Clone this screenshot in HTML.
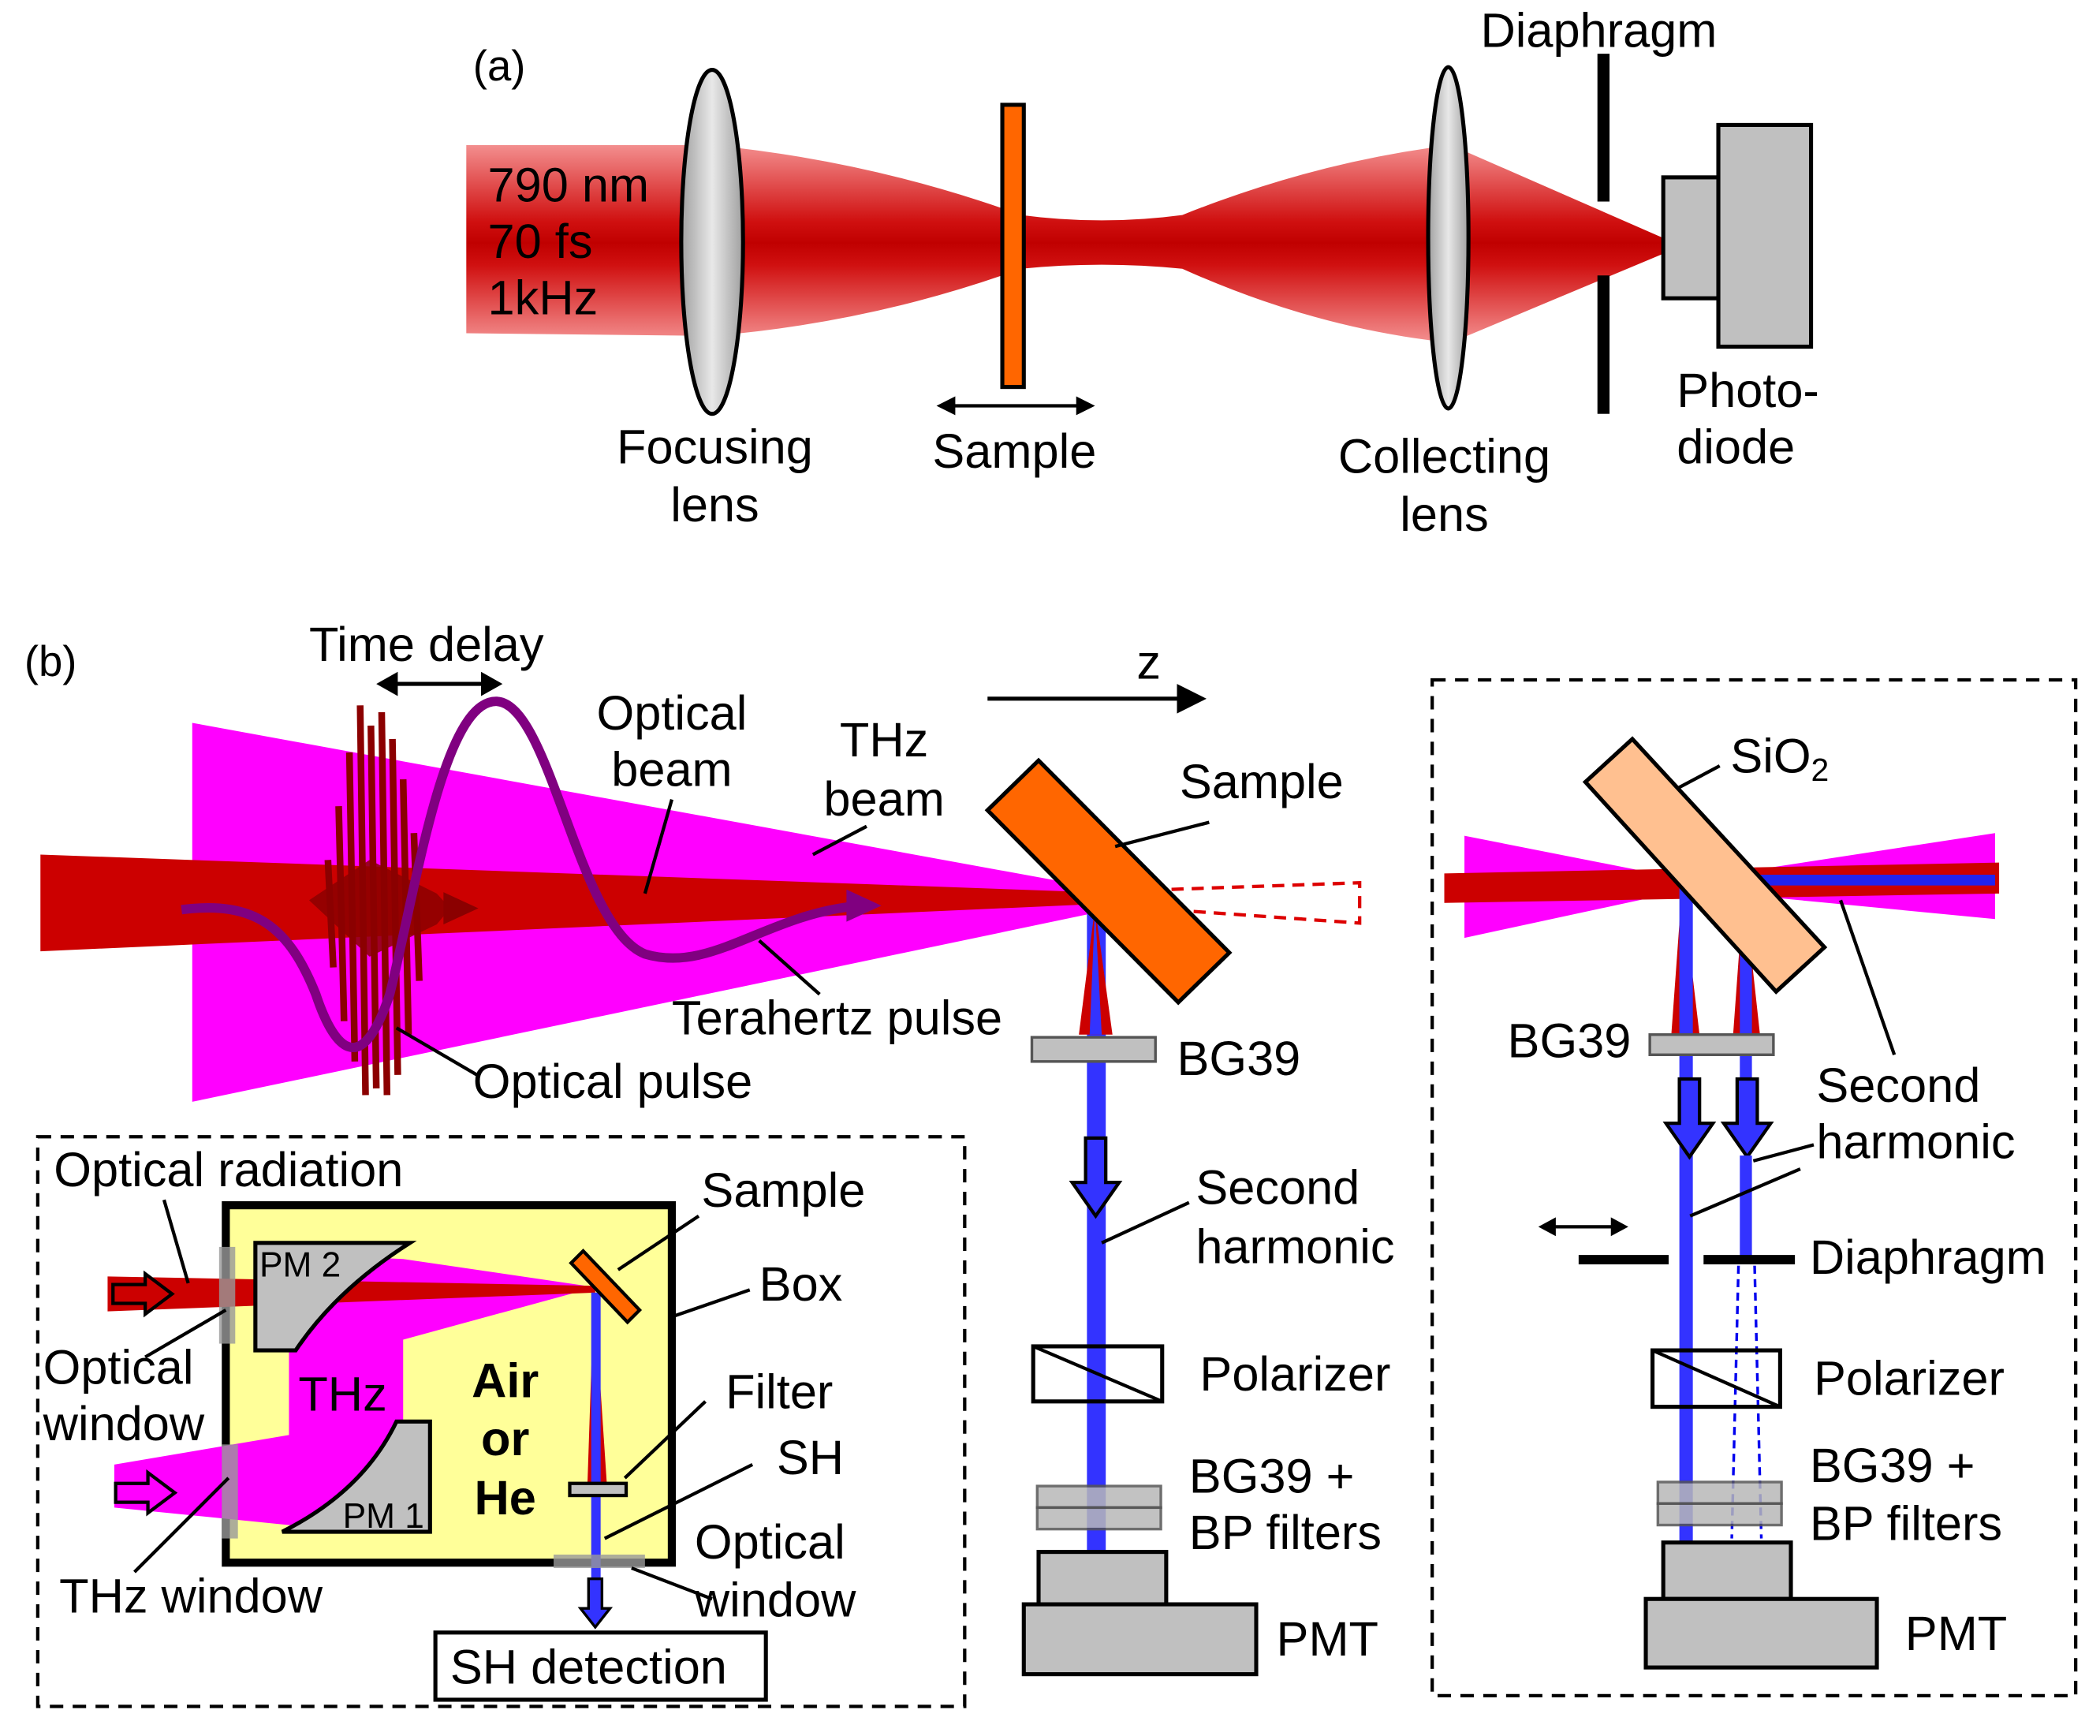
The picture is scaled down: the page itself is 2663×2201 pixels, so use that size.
<!DOCTYPE html>
<html><head><meta charset="utf-8"><style>html,body{margin:0;padding:0;background:#fff}svg{display:block}text{font-family:"Liberation Sans",sans-serif;fill:#000}</style></head><body>
<svg width="2663" height="2201" viewBox="0 0 1563 1292" xmlns="http://www.w3.org/2000/svg">
<defs>
<linearGradient id="rg" x1="0" y1="100" x2="0" y2="262" gradientUnits="userSpaceOnUse">
<stop offset="0" stop-color="#f8a0a0"/><stop offset="0.4" stop-color="#d01010"/><stop offset="0.5" stop-color="#c00000"/><stop offset="0.6" stop-color="#d01010"/><stop offset="1" stop-color="#f8a0a0"/></linearGradient>
<linearGradient id="lg" x1="0" x2="1" y1="0" y2="0"><stop offset="0" stop-color="#a0a0a0"/><stop offset="0.5" stop-color="#e8e8e8"/><stop offset="1" stop-color="#a0a0a0"/></linearGradient>
</defs>
<g font-size="36">
<!-- (a) -->
<text x="352" y="60" font-size="32">(a)</text>
<path d="M347,108 L530,108 Q650,120 760,160 Q820,168 880,160 Q980,120 1080,108 L1240,178 L1240,188 L1080,255 Q980,245 880,200 Q820,194 760,200 Q650,240 530,250 L347,248 Z" fill="url(#rg)"/>
<text x="363" y="150">790 nm</text><text x="363" y="192">70 fs</text><text x="363" y="234">1kHz</text>
<ellipse cx="530" cy="180" rx="23" ry="128" fill="url(#lg)" stroke="#000" stroke-width="3"/>
<rect x="746" y="78" width="16" height="210" fill="#ff6600" stroke="#000" stroke-width="3"/>
<line x1="700" y1="302" x2="812" y2="302" stroke="#000" stroke-width="2.5"/>
<path d="M697,302 l14,-7 v14 z M815,302 l-14,-7 v14 z" fill="#000"/>
<text x="755" y="348" text-anchor="middle">Sample</text>
<text x="532" y="345" text-anchor="middle">Focusing</text><text x="532" y="388" text-anchor="middle">lens</text>
<ellipse cx="1078" cy="177" rx="15" ry="127" fill="url(#lg)" stroke="#000" stroke-width="3"/>
<rect x="1189" y="40" width="9" height="110" fill="#000"/><rect x="1189" y="205" width="9" height="103" fill="#000"/>
<text x="1190" y="35" text-anchor="middle">Diaphragm</text>
<rect x="1238" y="132" width="42" height="90" fill="#c0c0c0" stroke="#000" stroke-width="3"/>
<rect x="1279" y="93" width="69" height="165" fill="#c0c0c0" stroke="#000" stroke-width="3"/>
<text x="1248" y="303">Photo-</text><text x="1248" y="345">diode</text>
<text x="1075" y="352" text-anchor="middle">Collecting</text><text x="1075" y="395" text-anchor="middle">lens</text>

<!-- (b) -->
<text x="18" y="503" font-size="32">(b)</text>
<polygon points="143,538 812,660 812,680 143,820" fill="#ff00ff"/>
<polygon points="30,636 812,664 812,673 30,708" fill="#cc0000"/>
<polygon points="812,664 1012,657 1012,687 812,673" fill="none" stroke="#dd0000" stroke-width="2.5" stroke-dasharray="9,6"/>
<path d="M268,525 L272,815 M276,540 L280,810 M284,530 L288,815 M292,550 L296,800 M260,560 L264,790 M252,600 L256,760 M300,580 L304,770 M244,640 L248,720 M308,620 L312,730" stroke="#8b0000" stroke-width="5"/>
<polygon points="230,670 275,640 325,665 335,676 325,688 275,712" fill="#8b0000" opacity="0.85"/>
<polygon points="330,664 356,676 330,688" fill="#8b0000"/>
<path d="M135,677 C190,670 215,690 235,740 C250,785 270,800 290,740 C310,660 330,520 370,522 C410,525 430,690 480,710 C530,725 570,680 640,674" fill="none" stroke="#800080" stroke-width="7"/>
<polygon points="630,662 656,674 630,686" fill="#800080"/>
<text x="230" y="492">Time delay</text>
<line x1="290" y1="509" x2="364" y2="509" stroke="#000" stroke-width="3"/>
<path d="M280,509 l16,-9 v18 z M374,509 l-16,-9 v18 z" fill="#000"/>
<text x="500" y="543" text-anchor="middle">Optical</text><text x="500" y="585" text-anchor="middle">beam</text>
<line x1="480" y1="665" x2="500" y2="595" stroke="#000" stroke-width="2.5"/>
<text x="658" y="563" text-anchor="middle">THz</text><text x="658" y="607" text-anchor="middle">beam</text>
<line x1="605" y1="636" x2="645" y2="615" stroke="#000" stroke-width="2.5"/>
<text x="500" y="770">Terahertz pulse</text>
<line x1="565" y1="700" x2="610" y2="740" stroke="#000" stroke-width="2.5"/>
<text x="352" y="817">Optical pulse</text>
<line x1="295" y1="765" x2="355" y2="800" stroke="#000" stroke-width="2.5"/>
<line x1="735" y1="520" x2="880" y2="520" stroke="#000" stroke-width="3"/>
<path d="M898,520 l-22,-11 v22 z" fill="#000"/>
<text x="846" y="505">z</text>

<!-- middle column -->
<rect x="809" y="675" width="14" height="480" fill="#3333ff"/>
<polygon points="815,675 803,770 828,770" fill="#cc0000"/>
<polygon points="815,675 811,770 820,770" fill="#3333ff"/>
<polygon points="735,603 773,566 915,709 877,746" fill="#ff6600" stroke="#000" stroke-width="3"/>
<text x="878" y="594">Sample</text>
<line x1="830" y1="630" x2="900" y2="612" stroke="#000" stroke-width="2.5"/>
<rect x="768" y="772" width="92" height="18" fill="#c0c0c0" stroke="#555" stroke-width="2"/>
<text x="876" y="800">BG39</text>
<path d="M808,847 h15 v33 h10 l-17.5,25 l-17.5,-25 h10 z" fill="#3333ff" stroke="#000" stroke-width="2.5"/>
<text x="890" y="896">Second</text><text x="890" y="940">harmonic</text>
<line x1="820" y1="925" x2="885" y2="895" stroke="#000" stroke-width="2.5"/>
<rect x="769" y="1002" width="96" height="41" fill="none" stroke="#000" stroke-width="3"/>
<line x1="769" y1="1002" x2="865" y2="1043" stroke="#000" stroke-width="2.5"/>
<text x="893" y="1035">Polarizer</text>
<rect x="772" y="1106" width="92" height="16" fill="#b8b8b8" stroke="#555" stroke-width="2" opacity="0.85"/>
<rect x="772" y="1122" width="92" height="16" fill="#b8b8b8" stroke="#555" stroke-width="2" opacity="0.85"/>
<text x="885" y="1111">BG39 +</text><text x="885" y="1153">BP filters</text>
<rect x="773" y="1155" width="95" height="40" fill="#c0c0c0" stroke="#000" stroke-width="3"/>
<rect x="762" y="1194" width="173" height="52" fill="#c0c0c0" stroke="#000" stroke-width="3"/>
<text x="950" y="1232">PMT</text>

<!-- left inset -->
<rect x="28" y="846" width="690" height="424" fill="none" stroke="#000" stroke-width="2.5" stroke-dasharray="10,7"/>
<text x="40" y="883">Optical radiation</text>
<rect x="168" y="897" width="332" height="266" fill="#ffff99" stroke="#000" stroke-width="6"/>
<polygon points="85,1090 215,1068 215,1005 250,935 300,937 443,958 300,997 300,1085 245,1138 85,1122" fill="#ff00ff"/>
<polygon points="80,950 443,957 443,962 80,976" fill="#cc0000"/>
<path d="M190,925 L305,925 Q250,960 220,1005 L190,1005 Z" fill="#c0c0c0" stroke="#000" stroke-width="3"/>
<path d="M210,1140 Q270,1110 295,1058 L320,1058 L320,1140 Z" fill="#c0c0c0" stroke="#000" stroke-width="3"/>
<text x="193" y="950" font-size="26">PM 2</text>
<text x="255" y="1137" font-size="26">PM 1</text>
<path d="M84,956 h24 v-8 l20,15 l-20,15 v-8 h-24 z" fill="#cc0000" stroke="#000" stroke-width="2.5"/>
<path d="M86,1104 h24 v-8 l20,15 l-20,15 v-8 h-24 z" fill="#ff00ff" stroke="#000" stroke-width="2.5"/>
<rect x="163" y="928" width="12" height="72" fill="#999" opacity="0.8"/>
<rect x="165" y="1075" width="12" height="70" fill="#999" opacity="0.8"/>
<polygon points="442,960 437,1110 452,1110" fill="#cc0000"/>
<rect x="440" y="962" width="7" height="240" fill="#3333ff"/>
<polygon points="425,940 434,931 476,975 467,984" fill="#ff6600" stroke="#000" stroke-width="2.5"/>
<rect x="424" y="1104" width="42" height="9" fill="#c0c0c0" stroke="#000" stroke-width="2.5"/>
<rect x="412" y="1157" width="68" height="10" fill="#999" opacity="0.8"/>
<path d="M438,1175 h10 v22 h6 l-11,14 l-11,-14 h6 z" fill="#3333ff" stroke="#000" stroke-width="2"/>
<rect x="324" y="1215" width="246" height="50" fill="#fff" stroke="#000" stroke-width="3"/>
<text x="335" y="1253">SH detection</text>
<text x="222" y="1050" font-size="36">THz</text>
<text x="376" y="1040" text-anchor="middle" font-weight="bold">Air</text>
<text x="376" y="1083" text-anchor="middle" font-weight="bold">or</text>
<text x="376" y="1127" text-anchor="middle" font-weight="bold">He</text>
<text x="522" y="898">Sample</text><line x1="460" y1="945" x2="520" y2="905" stroke="#000" stroke-width="2.5"/>
<text x="565" y="968">Box</text><line x1="500" y1="980" x2="558" y2="960" stroke="#000" stroke-width="2.5"/>
<text x="540" y="1048">Filter</text><line x1="465" y1="1100" x2="525" y2="1043" stroke="#000" stroke-width="2.5"/>
<text x="578" y="1097">SH</text><line x1="450" y1="1145" x2="560" y2="1090" stroke="#000" stroke-width="2.5"/>
<text x="517" y="1160">Optical</text><text x="517" y="1203">window</text><line x1="470" y1="1167" x2="530" y2="1190" stroke="#000" stroke-width="2.5"/>
<text x="32" y="1030">Optical</text><text x="32" y="1072">window</text>
<line x1="122" y1="893" x2="140" y2="955" stroke="#000" stroke-width="2.5"/>
<line x1="168" y1="975" x2="108" y2="1010" stroke="#000" stroke-width="2.5"/>
<text x="44" y="1200">THz window</text><line x1="170" y1="1100" x2="100" y2="1170" stroke="#000" stroke-width="2.5"/>

<!-- right inset -->
<rect x="1066" y="506" width="479" height="756" fill="none" stroke="#000" stroke-width="2.5" stroke-dasharray="10,7"/>
<polygon points="1090,622 1257,655 1485,620 1485,684 1257,662 1090,698" fill="#ff00ff"/>
<polygon points="1075,650 1488,642 1488,665 1075,672" fill="#cc0000"/>
<rect x="1255" y="651" width="230" height="8" fill="#2222ee"/>
<polygon points="1252,660 1244,770 1265,770" fill="#cc0000"/>
<polygon points="1298,660 1290,770 1310,770" fill="#cc0000"/>
<rect x="1250" y="658" width="10" height="490" fill="#3333ff"/>
<rect x="1295" y="658" width="9" height="150" fill="#3333ff"/>
<polygon points="1180,582 1215,550 1358,705 1322,738" fill="#ffc090" stroke="#000" stroke-width="3"/>
<text x="1288" y="575">SiO<tspan font-size="24" dy="6">2</tspan></text>
<line x1="1248" y1="587" x2="1280" y2="570" stroke="#000" stroke-width="2.5"/>
<rect x="1228" y="770" width="92" height="15" fill="#c0c0c0" stroke="#555" stroke-width="2"/>
<text x="1122" y="787">BG39</text>
<path d="M1250,803 h15 v33 h10 l-17.5,25 l-17.5,-25 h10 z" fill="#3333ff" stroke="#000" stroke-width="2.5"/>
<path d="M1293,803 h15 v33 h10 l-17.5,25 l-17.5,-25 h10 z" fill="#3333ff" stroke="#000" stroke-width="2.5"/>
<rect x="1295" y="860" width="9" height="78" fill="#3333ff"/>
<text x="1352" y="820">Second</text><text x="1352" y="862">harmonic</text>
<line x1="1410" y1="785" x2="1370" y2="670" stroke="#000" stroke-width="2.5"/>
<line x1="1350" y1="852" x2="1305" y2="864" stroke="#000" stroke-width="2.5"/>
<line x1="1340" y1="870" x2="1258" y2="905" stroke="#000" stroke-width="2.5"/>
<line x1="1155" y1="913" x2="1202" y2="913" stroke="#000" stroke-width="2.5"/>
<path d="M1145,913 l13,-7 v14 z M1212,913 l-13,-7 v14 z" fill="#000"/>
<rect x="1175" y="934" width="67" height="7" fill="#000"/><rect x="1268" y="934" width="68" height="7" fill="#000"/>
<text x="1347" y="948">Diaphragm</text>
<line x1="1294" y1="942" x2="1289" y2="1145" stroke="#0000ee" stroke-width="2" stroke-dasharray="6,4"/>
<line x1="1306" y1="942" x2="1311" y2="1145" stroke="#0000ee" stroke-width="2" stroke-dasharray="6,4"/>
<rect x="1230" y="1005" width="95" height="42" fill="none" stroke="#000" stroke-width="3"/>
<line x1="1230" y1="1005" x2="1325" y2="1047" stroke="#000" stroke-width="2.5"/>
<text x="1350" y="1038">Polarizer</text>
<rect x="1234" y="1103" width="92" height="16" fill="#b8b8b8" stroke="#555" stroke-width="2" opacity="0.85"/>
<rect x="1234" y="1119" width="92" height="16" fill="#b8b8b8" stroke="#555" stroke-width="2" opacity="0.85"/>
<text x="1347" y="1103">BG39 +</text><text x="1347" y="1146">BP filters</text>
<rect x="1238" y="1148" width="95" height="42" fill="#c0c0c0" stroke="#000" stroke-width="3"/>
<rect x="1225" y="1190" width="172" height="51" fill="#c0c0c0" stroke="#000" stroke-width="3"/>
<text x="1418" y="1228">PMT</text>
</g>
</svg>
</body></html>
